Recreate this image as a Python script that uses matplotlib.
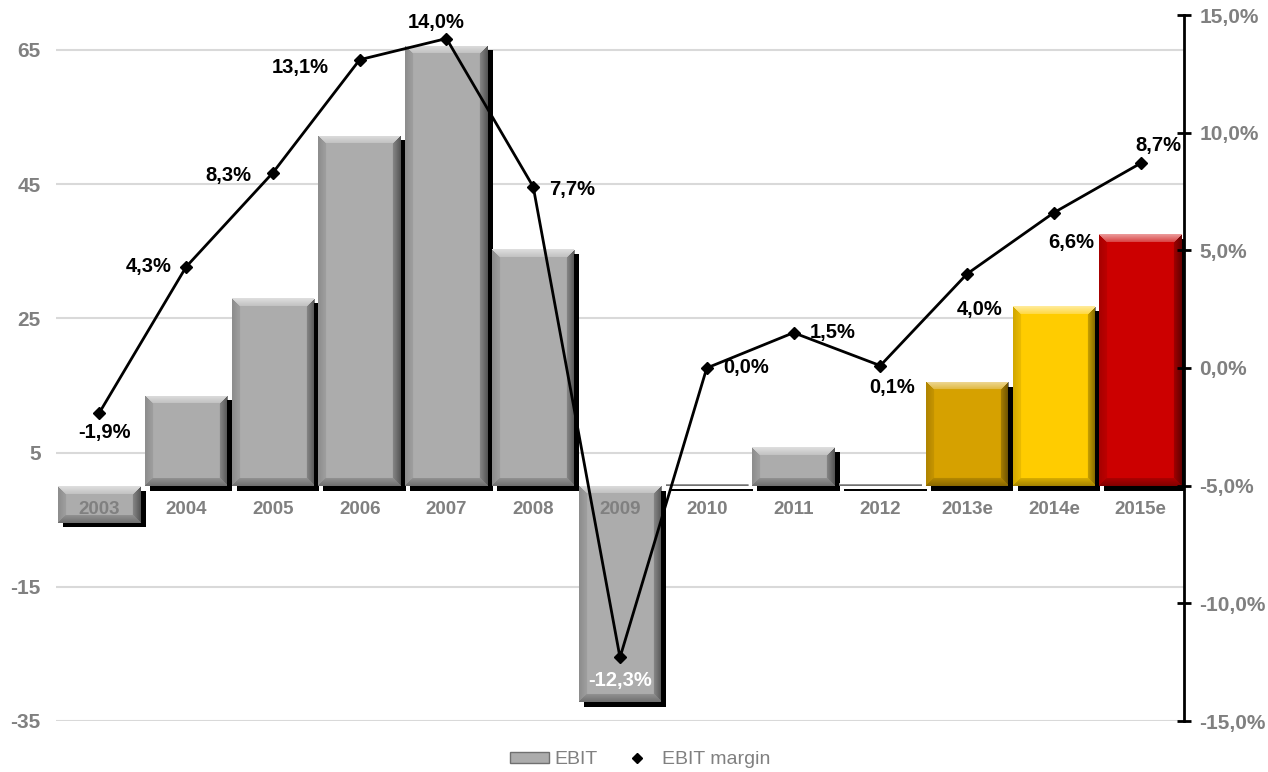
import matplotlib
matplotlib.use('Agg')
import matplotlib.pyplot as plt
import matplotlib.patheffects as pe
from matplotlib.lines import Line2D
from matplotlib.patches import Patch
import numpy as np

plt.rcParams['font.family'] = ['Liberation Sans', 'DejaVu Sans']
plt.rcParams['axes.unicode_minus'] = False

# data
years = ['2003', '2004', '2005', '2006', '2007', '2008', '2009',
         '2010', '2011', '2012', '2013e', '2014e', '2015e']
ebit = [-5.5, 13.5, 28.0, 52.2, 65.6, 35.3, -32.2, 0.3, 5.8, 0.3, 15.5, 26.8, 37.5]
margin = [-1.9, 4.3, 8.3, 13.1, 14.0, 7.7, -12.3, 0.0, 1.5, 0.1, 4.0, 6.6, 8.7]
bar_colors = ['#acacac'] * 10 + ['#d6a100', '#ffcc00', '#cc0000']

# label offsets in pixels (dx, dy) and alignment for the margin labels
lbl_pos = [(5, -20, 'center'), (-15, 0, 'right'), (-22, -3, 'right'), (-31, -8, 'right'),
           (-10, 16, 'center'), (16, -3, 'left'), (0, -23, 'center'), (16, 0, 'left'),
           (16, 0, 'left'), (12, -22, 'center'), (13, -36, 'center'), (17, -30, 'center'),
           (18, 18, 'center')]

gray = '#808080'
fig = plt.figure(figsize=(12.68, 7.72), dpi=100)
ax = fig.add_axes([56 / 1268, 51 / 772, 1128 / 1268, 706 / 772])
ax2 = ax.twinx()

x = np.arange(len(years))
width = 0.95
ax.set_xlim(-0.5, len(years) - 0.5)
ax.set_ylim(-35, 70.2)
ax2.set_ylim(-15, 15)

# grid
ax.set_yticks([-35, -15, 5, 25, 45, 65])
ax.grid(axis='y', color='#d9d9d9', linewidth=1.5, zorder=0)
ax.set_axisbelow(True)

shadow = [pe.SimplePatchShadow(offset=(3.6, -3.2), shadow_rgbFace='black', alpha=1.0), pe.Normal()]
bars = ax.bar(x, ebit, width=width, color=bar_colors, zorder=2, linewidth=0)
for b in bars:
    b.set_path_effects(shadow)


# bevel overlay per bar
def bevel(w, h, band=8):
    H, W = max(int(round(h)), 1), max(int(round(w)), 1)
    yy, xx = np.mgrid[0:H, 0:W]
    d = np.stack([yy, H - 1 - yy, xx, W - 1 - xx]).astype(float)
    side = d.argmin(0)
    dmin = d.min(0)
    cols = np.array([[1, 1, 1, 0.6], [0, 0, 0, 0.35], [0, 0, 0, 0.18], [0, 0, 0, 0.5]])
    img = cols[side].copy()
    fade = np.clip(1 - dmin / band, 0, 1)
    img[..., 3] *= np.where(dmin < band, 0.4 + 0.6 * fade, 0)
    return img


for b in bars:
    x0, y0 = b.get_x(), b.get_y()
    x1, y1 = x0 + b.get_width(), y0 + b.get_height()
    p0 = ax.transData.transform((x0, min(y0, y1)))
    p1 = ax.transData.transform((x1, max(y0, y1)))
    img = bevel(p1[0] - p0[0], p1[1] - p0[1])
    ax.imshow(img, extent=(x0, x1, min(y0, y1), max(y0, y1)), origin='upper',
              aspect='auto', interpolation='bilinear', zorder=3)
ax.set_xlim(-0.5, len(years) - 0.5)
ax.set_ylim(-35, 70.2)

# category labels just under the zero line
for i, yr in enumerate(years):
    ax.annotate(yr, (i, 0), xytext=(0, -17), textcoords='offset points',
                ha='center', va='center', fontsize=13.5, fontweight='bold',
                color=gray, zorder=5)

# margin line
ax2.plot(x, margin, color='black', linewidth=2, marker='D', markersize=6, zorder=6)
for i, v in enumerate(margin):
    dx, dy, ha = lbl_pos[i]
    ax2.annotate(f'{v:.1f}%'.replace('.', ','), (i, v), xytext=(dx * 0.72, dy * 0.72),
                 textcoords='offset points', ha=ha, va='center', fontsize=14.5,
                 fontweight='bold', color='white' if v < -10 else 'black', zorder=7)

# axes styling
for s in ['top', 'bottom', 'left', 'right']:
    ax.spines[s].set_visible(False)
    ax2.spines[s].set_visible(False)
ax2.spines['right'].set_visible(True)
ax2.spines['right'].set_linewidth(2)
ax2.spines['right'].set_color('black')

ax.set_xticks([])
ax2.set_xticks([])
ax.tick_params(axis='y', length=0, pad=11, labelsize=15, labelcolor=gray)
for t in ax.get_yticklabels():
    t.set_fontweight('bold')

ax2.set_yticks(np.arange(-15, 16, 5))
ax2.set_yticklabels([f'{t:.1f}%'.replace('.', ',') for t in np.arange(-15, 16, 5)])
ax2.tick_params(axis='y', direction='inout', length=10, width=2, color='black',
                pad=6, labelsize=15, labelcolor=gray)
for t in ax2.get_yticklabels():
    t.set_fontweight('bold')

# legend
handles = [Patch(facecolor='#acacac', edgecolor='#707070', linewidth=1),
           Line2D([], [], color='black', marker='D', markersize=5, linestyle='none')]
fig.legend(handles, ['EBIT', 'EBIT margin'], loc='center', bbox_to_anchor=(0.505, 0.016),
           ncol=2, frameon=False, fontsize=14, labelcolor=gray,
           handlelength=2.0, handleheight=0.5, handletextpad=0.3, columnspacing=1.0)

plt.savefig('out.png', dpi=100)
